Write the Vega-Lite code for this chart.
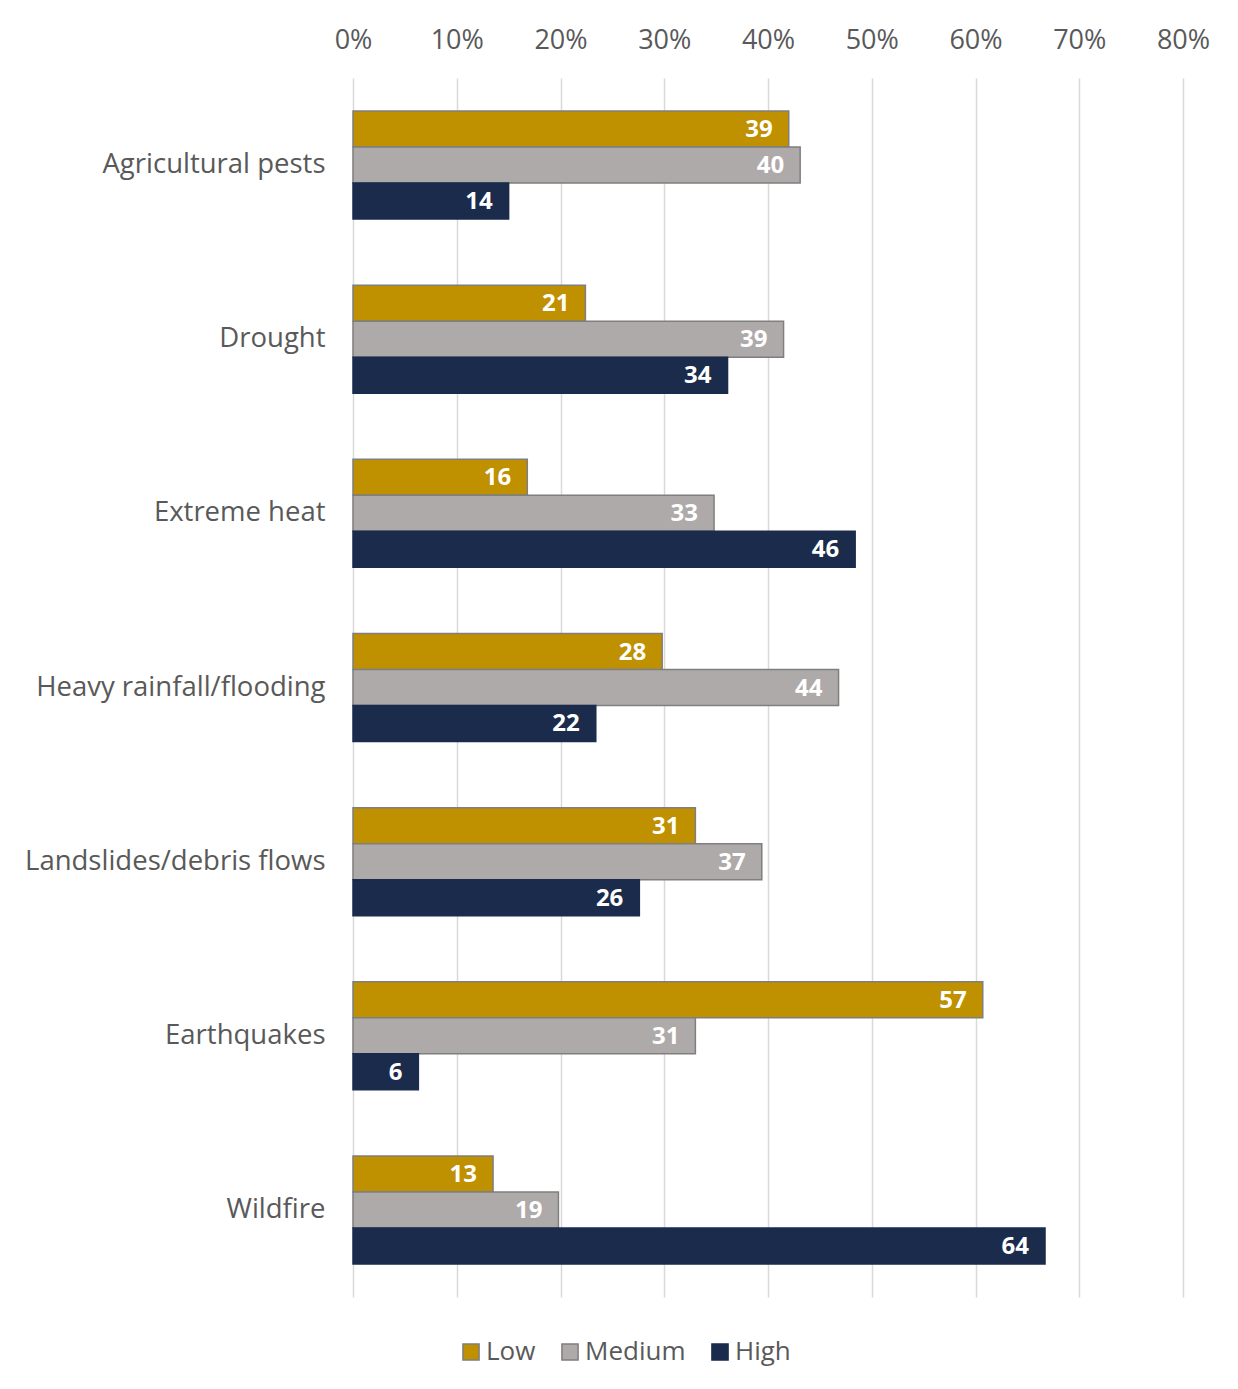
{
  "$schema": "https://vega.github.io/schema/vega-lite/v6.json",
  "width": 830,
  "height": 1219,
  "autosize": {"type": "none"},
  "padding": {"left": 353, "top": 78, "right": 55, "bottom": 92},
  "background": "white",
  "config": {
    "view": {"stroke": null},
    "font": "Open Sans"
  },
  "data": {
    "values": [
      {"hazard": "Agricultural pests", "level": "Low", "pct": 42.0, "label": "39"},
      {"hazard": "Agricultural pests", "level": "Medium", "pct": 43.1, "label": "40"},
      {"hazard": "Agricultural pests", "level": "High", "pct": 15.0, "label": "14"},
      {"hazard": "Drought", "level": "Low", "pct": 22.4, "label": "21"},
      {"hazard": "Drought", "level": "Medium", "pct": 41.5, "label": "39"},
      {"hazard": "Drought", "level": "High", "pct": 36.1, "label": "34"},
      {"hazard": "Extreme heat", "level": "Low", "pct": 16.8, "label": "16"},
      {"hazard": "Extreme heat", "level": "Medium", "pct": 34.8, "label": "33"},
      {"hazard": "Extreme heat", "level": "High", "pct": 48.4, "label": "46"},
      {"hazard": "Heavy rainfall/flooding", "level": "Low", "pct": 29.8, "label": "28"},
      {"hazard": "Heavy rainfall/flooding", "level": "Medium", "pct": 46.8, "label": "44"},
      {"hazard": "Heavy rainfall/flooding", "level": "High", "pct": 23.4, "label": "22"},
      {"hazard": "Landslides/debris flows", "level": "Low", "pct": 33.0, "label": "31"},
      {"hazard": "Landslides/debris flows", "level": "Medium", "pct": 39.4, "label": "37"},
      {"hazard": "Landslides/debris flows", "level": "High", "pct": 27.6, "label": "26"},
      {"hazard": "Earthquakes", "level": "Low", "pct": 60.7, "label": "57"},
      {"hazard": "Earthquakes", "level": "Medium", "pct": 33.0, "label": "31"},
      {"hazard": "Earthquakes", "level": "High", "pct": 6.3, "label": "6"},
      {"hazard": "Wildfire", "level": "Low", "pct": 13.5, "label": "13"},
      {"hazard": "Wildfire", "level": "Medium", "pct": 19.8, "label": "19"},
      {"hazard": "Wildfire", "level": "High", "pct": 66.7, "label": "64"}
    ]
  },
  "encoding": {
    "y": {
      "field": "hazard",
      "type": "nominal",
      "sort": null,
      "scale": {"paddingInner": 0.38, "paddingOuter": 0.19},
      "axis": {
        "title": null,
        "ticks": false,
        "domain": false,
        "labelFontSize": 27.5,
        "labelColor": "#595959",
        "labelPadding": 28,
        "labelLimit": 400
      }
    },
    "yOffset": {
      "field": "level",
      "type": "nominal",
      "sort": ["Low", "Medium", "High"],
      "scale": {"domain": ["Low", "Medium", "High"]}
    },
    "x": {
      "field": "pct",
      "type": "quantitative",
      "scale": {"domain": [0, 80], "nice": false},
      "axis": {
        "orient": "top",
        "title": null,
        "values": [0, 10, 20, 30, 40, 50, 60, 70, 80],
        "labelExpr": "datum.value + '%'",
        "labelFlush": false,
        "labelOverlap": false,
        "ticks": false,
        "domain": false,
        "grid": true,
        "gridColor": "#D9D9D9",
        "gridWidth": 1.5,
        "labelFontSize": 27,
        "labelColor": "#595959",
        "labelPadding": 24
      }
    }
  },
  "layer": [
    {
      "mark": {"type": "bar", "strokeWidth": 1.5},
      "encoding": {
        "fill": {
          "field": "level",
          "type": "nominal",
          "scale": {"domain": ["Low", "Medium", "High"], "range": ["#BF9000", "#AEAAAA", "#1A2B4C"]},
          "legend": {
            "title": null,
            "orient": "none",
            "direction": "horizontal",
            "legendX": 105,
            "legendY": 1261,
            "symbolType": "square",
            "symbolSize": 260,
            "symbolStrokeWidth": 1.5,
            "labelFontSize": 26,
            "labelColor": "#595959",
            "labelOffset": 2,
            "columnPadding": 21
          }
        },
        "stroke": {
          "field": "level",
          "type": "nominal",
          "scale": {"domain": ["Low", "Medium", "High"], "range": ["#7F7F7F", "#7F7F7F", "#1A2B4C"]}
        }
      }
    },
    {
      "mark": {"type": "text", "align": "right", "baseline": "middle", "dx": -16, "dy": 1, "color": "white", "fontWeight": "bold", "fontSize": 24},
      "encoding": {
        "text": {"field": "label"}
      }
    }
  ]
}
